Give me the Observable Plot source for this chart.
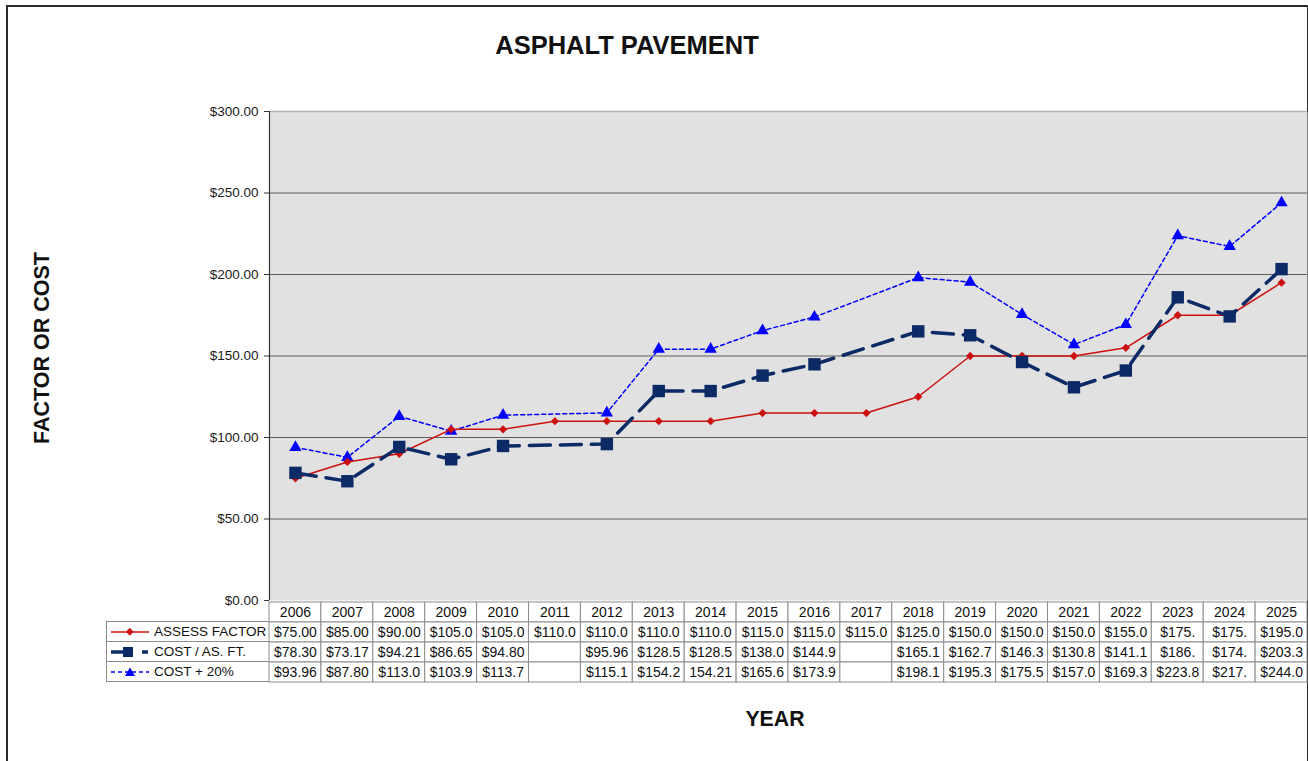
<!DOCTYPE html>
<html>
<head>
<meta charset="utf-8">
<script src="https://cdn.jsdelivr.net/npm/d3@7"></script>
<script src="https://cdn.jsdelivr.net/npm/@observablehq/plot@0.6"></script>
<style>
  html, body { margin: 0; padding: 0; background: #fff; overflow: hidden; }
  body { width: 1308px; height: 761px; position: relative; font-family: "Liberation Sans", Arial, sans-serif; color: #111; }
  #frame { position: absolute; left: 6px; top: 5px; width: 1299px; height: 800px; border: 2px solid #2a2a2a; border-bottom: none; }
  #title { position: absolute; left: 627px; top: 45px; transform: translate(-50%, -50%); font-weight: bold; font-size: 25.5px; white-space: nowrap; }
  #ylabel { position: absolute; left: 42px; top: 348px; transform: translate(-50%, -50%) rotate(-90deg); font-weight: bold; font-size: 21.5px; white-space: nowrap; }
  #xlabel { position: absolute; left: 775px; top: 719px; transform: translate(-50%, -50%); font-weight: bold; font-size: 21.3px; }
  #chart { position: absolute; left: 0; top: 0; }
  #table { position: absolute; left: 0; top: 600px; }
  #legend { position: absolute; left: 106px; top: 621px; width: 163px; }
  .lrow { height: 20px; border: 1px solid #8c8c8c; border-bottom: none; border-right: none; display: flex; align-items: center; font-size: 13.5px; box-sizing: border-box; }
  .lrow:last-child { border-bottom: 1px solid #8c8c8c; height: 21px; }
  .lrow svg { flex: none; margin-left: 2px; margin-right: 3px; }
</style>
</head>
<body>
<div id="frame"></div>
<div id="title">ASPHALT PAVEMENT</div>
<div id="ylabel">FACTOR OR COST</div>
<div id="xlabel">YEAR</div>
<div id="chart"></div>
<div id="table"></div>
<div id="legend"></div>
<script>
// ---- data ----
const years = [2006, 2007, 2008, 2009, 2010, 2011, 2012, 2013, 2014, 2015, 2016, 2017, 2018, 2019, 2020, 2021, 2022, 2023, 2024, 2025];
const assessFactor = [75, 85, 90, 105, 105, 110, 110, 110, 110, 115, 115, 115, 125, 150, 150, 150, 155, 175, 175, 195];
const costPerFt = [78.30, 73.17, 94.21, 86.65, 94.80, null, 95.96, 128.5, 128.5, 138.0, 144.9, null, 165.1, 162.7, 146.3, 130.8, 141.1, 186.0, 174.3, 203.3];
const costPlus20 = [93.96, 87.80, 113.0, 103.9, 113.7, null, 115.1, 154.2, 154.21, 165.6, 173.9, null, 198.1, 195.3, 175.5, 157.0, 169.3, 223.8, 217.2, 244.0];
const factorLabels = ["$75.00", "$85.00", "$90.00", "$105.0", "$105.0", "$110.0", "$110.0", "$110.0", "$110.0", "$115.0", "$115.0", "$115.0", "$125.0", "$150.0", "$150.0", "$150.0", "$155.0", "$175.", "$175.", "$195.0"];
const costLabels = ["$78.30", "$73.17", "$94.21", "$86.65", "$94.80", "", "$95.96", "$128.5", "$128.5", "$138.0", "$144.9", "", "$165.1", "$162.7", "$146.3", "$130.8", "$141.1", "$186.", "$174.", "$203.3"];
const cost20Labels = ["$93.96", "$87.80", "$113.0", "$103.9", "$113.7", "", "$115.1", "$154.2", "154.21", "$165.6", "$173.9", "", "$198.1", "$195.3", "$175.5", "$157.0", "$169.3", "$223.8", "$217.", "$244.0"];
const seriesNames = ["ASSESS FACTOR", "COST / AS. FT.", "COST + 20%"];
const yTicks = [0, 50, 100, 150, 200, 250, 300];

// ---- styles ----
const RED = "#cc1010", NAVY = "#0b2a66", BLUE = "#0000ff";
const xDomain = [years[0] - 0.5, years[years.length - 1] + 0.5];
const xRange = [269, 1307];

const pts = (vals) => years.map((y, i) => ({year: y, v: vals[i]})).filter(d => d.v != null);
const factorPts = pts(assessFactor), costPts = pts(costPerFt), c20Pts = pts(costPlus20);

const chart = Plot.plot({
  width: 1308, height: 601,
  marginTop: 111, marginBottom: 1, marginLeft: 269, marginRight: 1,
  style: {fontFamily: "'Liberation Sans', Arial, sans-serif", fontSize: "13px", color: "#1a1a1a", background: "transparent", overflow: "visible"},
  x: {domain: xDomain, range: xRange, axis: null},
  y: {domain: [0, 300], range: [600, 111]},
  marks: [
    Plot.frame({fill: "#e1e1e1", stroke: null}),
    Plot.ruleY(yTicks.filter(t => t > 0 && t < 300), {stroke: "#5c5c5c", strokeWidth: 1}),
    Plot.ruleY([300], {stroke: "#b4b4b4", strokeWidth: 1.5}),
    Plot.ruleX([xDomain[0]], {stroke: "#333", strokeWidth: 1.2}),
    Plot.axisY({ticks: yTicks, tickSize: 5, tickPadding: 6, fontSize: 13.5, label: null,
      tickFormat: d => "$" + d.toFixed(2), stroke: "#333"}),
    // COST + 20%
    Plot.line(c20Pts, {x: "year", y: "v", stroke: BLUE, strokeWidth: 1.5, strokeDasharray: "4,3"}),
    Plot.dot(c20Pts, {x: "year", y: "v", symbol: "triangle", fill: BLUE, r: 4.6}),
    // ASSESS FACTOR
    Plot.line(factorPts, {x: "year", y: "v", stroke: RED, strokeWidth: 1.5}),
    Plot.dot(factorPts, {x: "year", y: "v", symbol: "square", rotate: 45, fill: RED, r: 3.3}),
    // COST / AS. FT.
    Plot.line(costPts, {x: "year", y: "v", stroke: NAVY, strokeWidth: 3.5, strokeDasharray: "21,10"}),
    Plot.dot(costPts, {x: "year", y: "v", symbol: "square", fill: NAVY, r: 7})
  ]
});
document.getElementById("chart").appendChild(chart);

// ---- data table ----
const rows = ["year", "factor", "cost", "cost20"];
const tableData = years.flatMap((y, i) => [
  {year: y, row: "year", label: String(y)},
  {year: y, row: "factor", label: factorLabels[i]},
  {year: y, row: "cost", label: costLabels[i]},
  {year: y, row: "cost20", label: cost20Labels[i]}
]);
const table = Plot.plot({
  width: 1308, height: 84,
  marginTop: 0, marginBottom: 0, marginLeft: 0, marginRight: 0,
  style: {fontFamily: "'Liberation Sans', Arial, sans-serif", fontSize: "14px", color: "#111", background: "transparent", overflow: "visible"},
  x: {domain: xDomain, range: xRange, axis: null},
  y: {domain: rows, range: [0.5, 82.5], padding: 0, axis: null},
  marks: [
    Plot.barX(tableData, {x1: d => d.year - 0.5, x2: d => d.year + 0.5, y: "row", fill: "white", stroke: "#8c8c8c", strokeWidth: 1, inset: 0}),
    Plot.text(tableData, {x: "year", y: "row", text: "label", fontSize: 14, fill: "#111"})
  ]
});
document.getElementById("table").appendChild(table);

// ---- legend column ----
const swatches = [
  `<svg width="42" height="12"><line x1="2" x2="40" y1="6" y2="6" stroke="${RED}" stroke-width="1.5"/><rect x="18" y="3" width="5.5" height="5.5" fill="${RED}" transform="rotate(45 20.75 5.75)"/></svg>`,
  `<svg width="42" height="14"><line x1="2" x2="24" y1="7" y2="7" stroke="${NAVY}" stroke-width="3.5"/><line x1="33" x2="39" y1="7" y2="7" stroke="${NAVY}" stroke-width="3.5"/><rect x="14" y="2" width="10" height="10" fill="${NAVY}"/></svg>`,
  `<svg width="42" height="12"><line x1="2" x2="40" y1="6" y2="6" stroke="${BLUE}" stroke-width="1.5" stroke-dasharray="4,3"/><path d="M21,1.5 L26,10 L16,10 Z" fill="${BLUE}"/></svg>`
];
document.getElementById("legend").innerHTML = seriesNames.map((n, i) =>
  `<div class="lrow">${swatches[i]}<span>${n}</span></div>`).join("");
</script>
</body>
</html>
